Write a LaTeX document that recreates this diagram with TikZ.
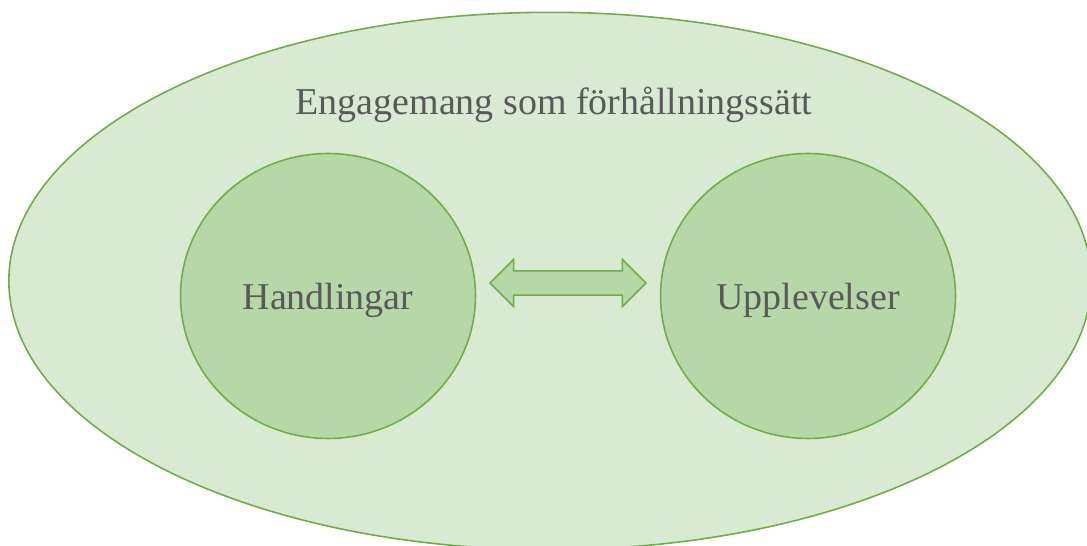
\documentclass[tikz,border=0pt]{standalone}
\usepackage{fontspec}
\setmainfont{Liberation Serif}
\usetikzlibrary{positioning, shapes.geometric, shapes.arrows}

\definecolor{rimgreen}{HTML}{70AD47}
\definecolor{palegreen}{HTML}{D9EAD3}
\definecolor{midgreen}{HTML}{B6D7A8}
\definecolor{textgray}{HTML}{595959}

\begin{document}
\begin{tikzpicture}[
    x=0.02cm, y=-0.02cm,
    font=\fontsize{21.6}{26}\selectfont,
    text=textgray,
    setting/.style={draw=rimgreen, fill=palegreen, line width=0.9pt, ellipse, minimum width=21.65cm, minimum height=10.75cm},
    part/.style={draw=rimgreen, fill=midgreen, line width=0.9pt, ellipse, minimum width=5.9cm, minimum height=5.7cm, text depth=0pt},
    link/.style={draw=rimgreen, fill=midgreen, line width=0.9pt, double arrow, double arrow head extend=0.23cm, minimum height=3.12cm, minimum width=0pt, inner xsep=0pt, inner ysep=0.227cm},
]
\useasboundingbox (0,0) rectangle (1087,546);
\clip (0,0) rectangle (1087,546);

\node[setting] (whole) at (550,281) {};
\node[anchor=base] (title) at (554,115) {Engagemang som förhållningssätt};

\node[part] (acts) at (328,296) {Handlingar};
\node[part] (feels) at (808,296) {Upplevelser};

\node[link] (both) at (568,283) {};
\end{tikzpicture}
\end{document}
